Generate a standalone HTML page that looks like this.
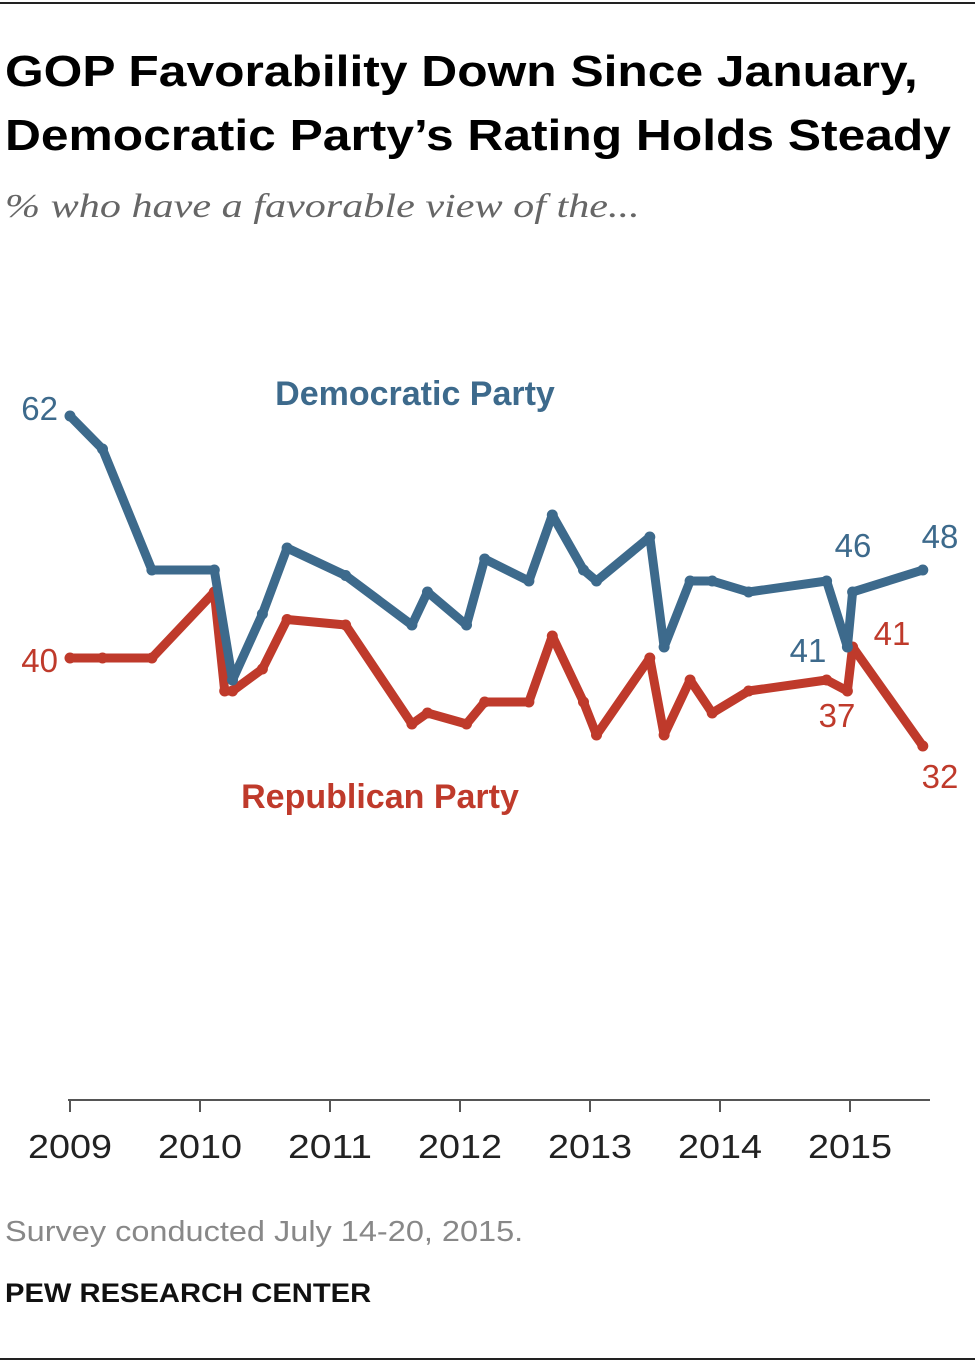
<!DOCTYPE html>
<html><head><meta charset="utf-8">
<style>
body{margin:0;background:#fff;width:980px;height:1364px;position:relative;overflow:hidden;font-family:"Liberation Sans",sans-serif}
.t{position:absolute;white-space:nowrap;transform-origin:0 0}
</style></head><body>
<div style="position:absolute;left:0;top:2px;width:975px;height:2px;background:#222"></div>
<div class="t" style="left:5px;top:40px;font-size:44px;font-weight:bold;line-height:64px;color:#000;transform:scaleX(1.13)">GOP Favorability Down Since January,<br>Democratic Party’s Rating Holds Steady</div>
<div class="t" style="left:5px;top:188px;font-family:'Liberation Serif',serif;font-style:italic;font-size:34px;color:#666;transform:scaleX(1.24)">% who have a favorable view of the...</div>
<svg width="980" height="1364" style="position:absolute;left:0;top:0" id="chart"></svg>
<div class="t" style="left:5px;top:1216px;font-size:29px;color:#888;transform:scaleX(1.12)">Survey conducted July 14-20, 2015.</div>
<div class="t" style="left:5px;top:1278px;font-size:27px;font-weight:bold;color:#111;transform:scaleX(1.08)">PEW RESEARCH CENTER</div>
<div style="position:absolute;left:0;top:1358px;width:975px;height:2px;background:#222"></div>
<script>
const years=[2009,2010,2011,2012,2013,2014,2015];
const demDates=[2009.0,2009.25,2009.63,2010.11,2010.25,2010.48,2010.67,2011.12,2011.63,2011.75,2012.05,2012.19,2012.53,2012.71,2012.95,2013.05,2013.46,2013.57,2013.77,2013.94,2014.22,2014.82,2014.98,2015.02,2015.56];
const demVals=[62,59,48,48,38,44,50,47.5,43,46,43,49,47,53,48,47,51,41,47,47,46,47,41,46,48];
const repDates=[2009.0,2009.25,2009.63,2010.11,2010.19,2010.25,2010.48,2010.67,2011.12,2011.63,2011.75,2012.05,2012.19,2012.53,2012.71,2012.95,2013.05,2013.46,2013.57,2013.77,2013.94,2014.22,2014.82,2014.98,2015.02,2015.56];
const repVals=[40,40,40,46,37,37,39,43.5,43,34,35,34,36,36,42,36,33,40,33,38,35,37,38,37,41,32];
const ns='http://www.w3.org/2000/svg';
const svg=document.getElementById('chart');
const x=d=>70+(d-2009)*130;
const y=v=>658-(v-40)*11;
function el(t,a,name){const e=document.createElementNS(ns,t);for(const k in a)e.setAttribute(k,a[k]);


svg.appendChild(e);return e;}
el('line',{x1:68,x2:930,y1:1100,y2:1100,stroke:'#555','stroke-width':2},'x-axis');
years.forEach(yr=>{
 el('line',{x1:x(yr),x2:x(yr),y1:1100,y2:1112,stroke:'#555','stroke-width':2},'x-tick');
 const t=el('text',{x:x(yr),y:1158,'text-anchor':'middle','font-size':33,fill:'#222','font-family':'Liberation Sans',textLength:84,lengthAdjust:'spacingAndGlyphs'},'x-tick-label');t.textContent=yr;
});
function series(ds,vs,c,name){
 el('polyline',{points:ds.map((d,i)=>x(d)+','+y(vs[i])).join(' '),fill:'none',stroke:c,'stroke-width':9,'stroke-linejoin':'round','stroke-linecap':'round'},name+'-line');
 ds.forEach((d,i)=>el('circle',{cx:x(d),cy:y(vs[i]),r:5.5,fill:c},name+'-point'));
}
const B='#3d6a8c',R='#bf3a2b';
series(repDates,repVals,R,'republican');
series(demDates,demVals,B,'democratic');
function lab(tx,xx,yy,c,anchor,name,bold){const t=el('text',{x:xx,y:yy,'text-anchor':anchor,'font-size':bold?34:33,fill:c,'font-family':'Liberation Sans','font-weight':bold?'bold':'normal'},name);t.textContent=tx;}
lab('Democratic Party',415,405,B,'middle','democratic-label',true);
lab('Republican Party',380,808,R,'middle','republican-label',true);
lab('62',58,420,B,'end','dem-start-value');
lab('40',58,672,R,'end','rep-start-value');
lab('46',853,557,B,'middle','dem-jan-value');
lab('48',940,548,B,'middle','dem-end-value');
lab('41',808,662,B,'middle','dem-dip-value');
lab('41',892,645,R,'middle','rep-jan-value');
lab('37',837,727,R,'middle','rep-dip-value');
lab('32',940,788,R,'middle','rep-end-value');
</script>
</body></html>
